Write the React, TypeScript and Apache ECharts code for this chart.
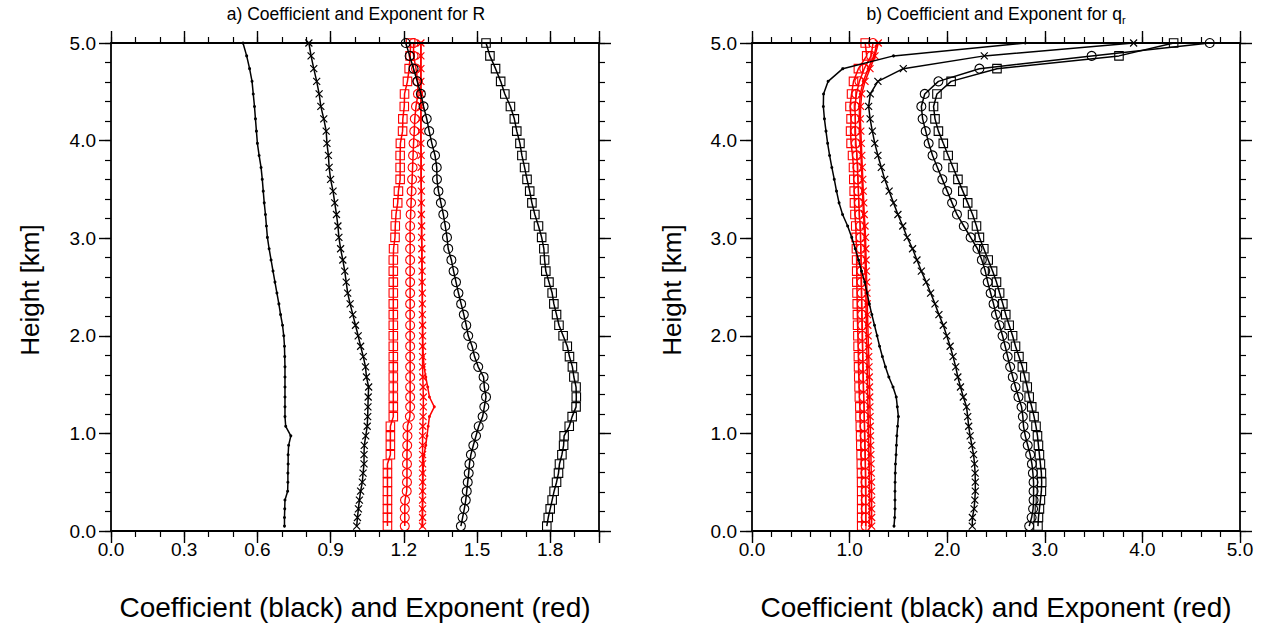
import React, { useEffect, useRef } from 'react';
import * as echarts from 'echarts';

// Model levels (km)
const heights = [
  0.05, 0.138, 0.227, 0.317, 0.408, 0.5, 0.593, 0.687, 0.782, 0.878,
  0.975, 1.073, 1.172, 1.272, 1.373, 1.475, 1.578, 1.682, 1.787, 1.893,
  2.0, 2.108, 2.217, 2.327, 2.438, 2.55, 2.663, 2.777, 2.892, 3.008,
  3.125, 3.243, 3.362, 3.482, 3.603, 3.725, 3.848, 3.972, 4.097, 4.223,
  4.35, 4.478, 4.607, 4.737, 4.868, 5.0,
];

// Panel a) coefficients (black)
const aCoefDot = [
  0.711, 0.711, 0.712, 0.713, 0.724, 0.725, 0.725, 0.726, 0.726, 0.728,
  0.737, 0.716, 0.713, 0.713, 0.713, 0.713, 0.713, 0.713, 0.712, 0.711,
  0.708, 0.703, 0.695, 0.688, 0.68, 0.672, 0.664, 0.656, 0.648, 0.641,
  0.637, 0.633, 0.628, 0.624, 0.62, 0.615, 0.607, 0.6, 0.596, 0.592,
  0.588, 0.583, 0.578, 0.568, 0.556, 0.541,
];
const aCoefCross = [
  1.007, 1.01, 1.014, 1.018, 1.023, 1.03, 1.033, 1.037, 1.037, 1.038,
  1.044, 1.05, 1.052, 1.053, 1.054, 1.056, 1.047, 1.043, 1.034, 1.023,
  1.013, 1.002, 0.991, 0.98, 0.97, 0.964, 0.958, 0.95, 0.941, 0.934,
  0.93, 0.924, 0.917, 0.91, 0.9, 0.894, 0.891, 0.885, 0.882, 0.872,
  0.86, 0.853, 0.843, 0.831, 0.82, 0.811,
];
const aCoefCircle = [
  1.434, 1.441, 1.448, 1.454, 1.458, 1.462, 1.466, 1.469, 1.475, 1.485,
  1.496, 1.507, 1.523, 1.53, 1.537, 1.53, 1.527, 1.505, 1.49, 1.48,
  1.464, 1.456, 1.446, 1.435, 1.424, 1.414, 1.404, 1.395, 1.382, 1.377,
  1.37, 1.362, 1.352, 1.342, 1.336, 1.335, 1.328, 1.315, 1.304, 1.294,
  1.281, 1.27, 1.255, 1.24, 1.224, 1.208,
];
const aCoefSquare = [
  1.786, 1.792, 1.8, 1.808, 1.816, 1.826, 1.834, 1.838, 1.848, 1.855,
  1.857, 1.878, 1.89, 1.906, 1.907, 1.906, 1.897, 1.891, 1.879, 1.87,
  1.853, 1.836, 1.826, 1.815, 1.808, 1.795, 1.782, 1.777, 1.774, 1.765,
  1.752, 1.737, 1.725, 1.716, 1.705, 1.695, 1.684, 1.676, 1.663, 1.653,
  1.637, 1.614, 1.597, 1.576, 1.553, 1.537,
];
// Panel a) exponents (red)
const aExpSquare = [
  1.133, 1.133, 1.133, 1.133, 1.133, 1.133, 1.133, 1.133, 1.145, 1.145,
  1.145, 1.145, 1.157, 1.157, 1.157, 1.157, 1.157, 1.157, 1.157, 1.157,
  1.157, 1.157, 1.157, 1.157, 1.157, 1.157, 1.157, 1.157, 1.158, 1.164,
  1.165, 1.168, 1.175, 1.178, 1.185, 1.185, 1.185, 1.186, 1.195, 1.196,
  1.202, 1.203, 1.215, 1.222, 1.226, 1.228,
];
const aExpCircle = [
  1.204, 1.204, 1.204, 1.205, 1.212, 1.213, 1.213, 1.213, 1.213, 1.214,
  1.215, 1.215, 1.225, 1.226, 1.226, 1.226, 1.226, 1.226, 1.226, 1.226,
  1.226, 1.226, 1.226, 1.226, 1.226, 1.226, 1.226, 1.226, 1.226, 1.226,
  1.226, 1.228, 1.23, 1.232, 1.234, 1.236, 1.238, 1.24, 1.243, 1.245,
  1.25, 1.258, 1.257, 1.25, 1.24, 1.24,
];
const aExpCross = [
  1.277, 1.277, 1.277, 1.277, 1.277, 1.277, 1.277, 1.277, 1.277, 1.277,
  1.277, 1.278, 1.279, 1.28, 1.28, 1.279, 1.278, 1.277, 1.277, 1.277,
  1.277, 1.277, 1.276, 1.276, 1.276, 1.275, 1.275, 1.274, 1.274, 1.273,
  1.273, 1.272, 1.272, 1.272, 1.271, 1.271, 1.271, 1.27, 1.27, 1.27,
  1.27, 1.27, 1.27, 1.27, 1.27, 1.27,
];
const aExpDot = [
  1.275, 1.276, 1.276, 1.277, 1.277, 1.278, 1.279, 1.28, 1.283, 1.29,
  1.295, 1.3, 1.305, 1.325, 1.305, 1.298, 1.29, 1.283, 1.28, 1.278,
  1.277, 1.277, 1.276, 1.276, 1.276, 1.275, 1.275, 1.274, 1.274, 1.273,
  1.273, 1.272, 1.272, 1.272, 1.271, 1.271, 1.271, 1.27, 1.27, 1.27,
  1.27, 1.27, 1.27, 1.27, 1.27, 1.27,
];

// Panel b) coefficients (black)
const bCoefDot = [
  1.455, 1.462, 1.465, 1.465, 1.465, 1.466, 1.468, 1.47, 1.476, 1.48,
  1.484, 1.492, 1.5, 1.489, 1.478, 1.445, 1.402, 1.367, 1.336, 1.307,
  1.282, 1.255, 1.228, 1.202, 1.18, 1.155, 1.122, 1.092, 1.058, 1.022,
  0.98, 0.928, 0.892, 0.866, 0.843, 0.818, 0.795, 0.775, 0.758, 0.742,
  0.731, 0.733, 0.78, 0.93, 1.45, 2.8,
];
const bCoefCross = [
  2.257, 2.258, 2.275, 2.283, 2.288, 2.288, 2.286, 2.28, 2.27, 2.253,
  2.235, 2.22, 2.21, 2.198, 2.165, 2.136, 2.109, 2.087, 2.06, 2.03,
  1.995, 1.96, 1.915, 1.875, 1.83, 1.785, 1.735, 1.69, 1.645, 1.59,
  1.545, 1.495, 1.45, 1.405, 1.36, 1.325, 1.29, 1.258, 1.233, 1.21,
  1.195, 1.212, 1.29, 1.55, 2.38, 3.91,
];
const bCoefCircle = [
  2.84, 2.865, 2.88, 2.885, 2.885, 2.885, 2.878, 2.868, 2.85, 2.825,
  2.8, 2.782, 2.775, 2.762, 2.73, 2.7, 2.672, 2.645, 2.62, 2.594,
  2.567, 2.535, 2.5, 2.475, 2.445, 2.415, 2.39, 2.355, 2.31, 2.24,
  2.17, 2.1, 2.05, 2.0, 1.95, 1.9, 1.85, 1.81, 1.78, 1.748,
  1.735, 1.77, 1.91, 2.33, 3.48, 4.69,
];
const bCoefSquare = [
  2.93, 2.935, 2.945, 2.955, 2.965, 2.968, 2.965, 2.955, 2.945, 2.935,
  2.925, 2.91, 2.89, 2.866, 2.84, 2.82, 2.795, 2.77, 2.735, 2.7,
  2.67, 2.635, 2.6, 2.57, 2.537, 2.505, 2.465, 2.42, 2.375, 2.33,
  2.3, 2.26, 2.21, 2.16, 2.11, 2.06, 2.01, 1.96, 1.91, 1.875,
  1.86, 1.895, 2.04, 2.51, 3.76, 4.32,
];
// Panel b) exponents (red)
const bExpSquare = [
  1.124, 1.124, 1.124, 1.124, 1.124, 1.123, 1.122, 1.12, 1.118, 1.115,
  1.113, 1.11, 1.107, 1.105, 1.1, 1.097, 1.094, 1.092, 1.09, 1.087,
  1.085, 1.082, 1.08, 1.078, 1.076, 1.074, 1.073, 1.072, 1.07, 1.067,
  1.063, 1.055, 1.05, 1.047, 1.043, 1.04, 1.03, 1.015, 1.01, 1.015,
  1.004, 1.02, 1.04, 1.09, 1.175, 1.16,
];
const bExpCircle = [
  1.165, 1.165, 1.165, 1.165, 1.164, 1.163, 1.162, 1.16, 1.158, 1.156,
  1.154, 1.152, 1.15, 1.148, 1.145, 1.142, 1.14, 1.138, 1.136, 1.134,
  1.132, 1.13, 1.128, 1.126, 1.124, 1.122, 1.12, 1.118, 1.116, 1.113,
  1.11, 1.1, 1.095, 1.09, 1.085, 1.08, 1.075, 1.065, 1.06, 1.058,
  1.055, 1.07, 1.1, 1.15, 1.22, 1.24,
];
const bExpCross = [
  1.226, 1.226, 1.226, 1.226, 1.225, 1.224, 1.222, 1.22, 1.218, 1.216,
  1.214, 1.212, 1.21, 1.208, 1.206, 1.204, 1.202, 1.199, 1.196, 1.193,
  1.19, 1.187, 1.184, 1.181, 1.178, 1.175, 1.172, 1.169, 1.166, 1.163,
  1.158, 1.15, 1.145, 1.14, 1.135, 1.13, 1.125, 1.12, 1.115, 1.11,
  1.113, 1.124, 1.158, 1.209, 1.26, 1.294,
];
const bExpDot = [
  1.205, 1.205, 1.205, 1.205, 1.204, 1.203, 1.202, 1.2, 1.198, 1.196,
  1.194, 1.192, 1.19, 1.188, 1.186, 1.184, 1.182, 1.18, 1.178, 1.176,
  1.174, 1.172, 1.17, 1.168, 1.166, 1.164, 1.162, 1.16, 1.158, 1.155,
  1.15, 1.142, 1.137, 1.132, 1.127, 1.122, 1.117, 1.11, 1.105, 1.1,
  1.1, 1.11, 1.14, 1.19, 1.25, 1.28,
];

const titleA = 'a) Coefficient and Exponent for R';
const titleB = 'b) Coefficient and Exponent for q';
const titleBSub = 'r';
const yName = 'Height [km]';
const xName = 'Coefficient (black) and Exponent (red)';

const FONT = '"Liberation Sans", Arial, Helvetica, sans-serif';
const BLACK = '#000000';
const RED = '#ff0000';
const CROSS = 'path://M0,0L10,10M10,0L0,10';

type Marker = 'dot' | 'cross' | 'circle' | 'square';

function makeSeries(name: string, xs: number[], color: string, marker: Marker, g: number, z: number) {
  const s: any = {
    type: 'line',
    name,
    xAxisIndex: g * 4,
    yAxisIndex: g * 4,
    data: heights.map((h, i) => [xs[i], h]),
    lineStyle: { color, width: 1.5 },
    showSymbol: true,
    showAllSymbol: true,
    silent: true,
    z,
    clip: false,
  };
  if (marker === 'dot') {
    s.symbol = 'circle';
    s.symbolSize = 3;
    s.itemStyle = { color, borderWidth: 0 };
  } else if (marker === 'circle') {
    s.symbol = 'circle';
    s.symbolSize = 9;
    s.itemStyle = { color: 'rgba(0,0,0,0)', borderColor: color, borderWidth: 1.1 };
  } else if (marker === 'square') {
    s.symbol = 'rect';
    s.symbolSize = 8.5;
    s.itemStyle = { color: 'rgba(0,0,0,0)', borderColor: color, borderWidth: 1.1 };
  } else {
    s.symbol = CROSS;
    s.symbolSize = 7;
    s.itemStyle = { color: 'rgba(0,0,0,0)', borderColor: color, borderWidth: 1.2 };
  }
  return s;
}

const GRIDS = [
  { left: 111, top: 43, width: 488, height: 488 },
  { left: 752, top: 43, width: 488, height: 488 },
];

const MAJOR_LEN = 12;
const MINOR_LEN = 6;
const lineMajor = { show: true, onZero: false, lineStyle: { color: BLACK, width: 1.8 } };
const tickMajor = { show: true, length: MAJOR_LEN, lineStyle: { color: BLACK, width: 1.4 } };
const lineMinor = { show: true, onZero: false, lineStyle: { color: BLACK, width: 1, opacity: 0 } };
const tickMinor = { show: true, length: MINOR_LEN, lineStyle: { color: BLACK, width: 1.2 } };

function xAxes(g: number, max: number, interval: number, minor: number) {
  const fmt = (v: number) =>
    Math.abs(v - max) < 1e-9 && Math.abs(max / interval - Math.round(max / interval)) > 1e-6 ? '' : v.toFixed(1);
  const common = { type: 'value', gridIndex: g, min: 0, max, splitLine: { show: false }, offset: 0 };
  return [
    {
      ...common,
      position: 'bottom',
      interval,
      axisLine: lineMajor,
      axisTick: tickMajor,
      axisLabel: { show: true, margin: 9, color: BLACK, fontSize: 19, fontFamily: FONT, formatter: fmt },
      z: 5,
    },
    { ...common, position: 'top', interval, axisLine: lineMajor, axisTick: tickMajor, axisLabel: { show: false }, z: 5 },
    { ...common, position: 'bottom', interval: minor, axisLine: lineMinor, axisTick: tickMinor, axisLabel: { show: false }, z: 4 },
    { ...common, position: 'top', interval: minor, axisLine: lineMinor, axisTick: tickMinor, axisLabel: { show: false }, z: 4 },
  ];
}

function yAxes(g: number) {
  const common = { type: 'value', gridIndex: g, min: 0, max: 5, splitLine: { show: false }, offset: 0 };
  return [
    {
      ...common,
      position: 'left',
      interval: 1,
      axisLine: lineMajor,
      axisTick: tickMajor,
      axisLabel: { show: true, margin: 15, color: BLACK, fontSize: 19, fontFamily: FONT, formatter: (v: number) => v.toFixed(1) },
      z: 5,
    },
    { ...common, position: 'right', interval: 1, axisLine: lineMajor, axisTick: tickMajor, axisLabel: { show: false }, z: 5 },
    { ...common, position: 'left', interval: 0.2, axisLine: lineMinor, axisTick: tickMinor, axisLabel: { show: false }, z: 4 },
    { ...common, position: 'right', interval: 0.2, axisLine: lineMinor, axisTick: tickMinor, axisLabel: { show: false }, z: 4 },
  ];
}

function txt(text: string, x: number, y: number, size: number, rotation = 0): any {
  return {
    type: 'text',
    x,
    y,
    rotation,
    silent: true,
    style: {
      text,
      fill: BLACK,
      fontSize: size,
      fontFamily: FONT,
      align: 'center',
      verticalAlign: 'middle',
      textAlign: 'center',
      textVerticalAlign: 'middle',
    },
  };
}

export default function App() {
  const ref = useRef<HTMLDivElement>(null);
  useEffect(() => {
    if (!ref.current) return;
    const chart = echarts.init(ref.current, undefined, { renderer: 'svg' });
    const series = [
      makeSeries('a exp square', aExpSquare, RED, 'square', 0, 2),
      makeSeries('a exp circle', aExpCircle, RED, 'circle', 0, 2),
      makeSeries('a exp dot', aExpDot, RED, 'dot', 0, 2),
      makeSeries('a exp cross', aExpCross, RED, 'cross', 0, 2),
      makeSeries('a coef dot', aCoefDot, BLACK, 'dot', 0, 3),
      makeSeries('a coef cross', aCoefCross, BLACK, 'cross', 0, 3),
      makeSeries('a coef circle', aCoefCircle, BLACK, 'circle', 0, 3),
      makeSeries('a coef square', aCoefSquare, BLACK, 'square', 0, 3),
      makeSeries('b exp square', bExpSquare, RED, 'square', 1, 2),
      makeSeries('b exp circle', bExpCircle, RED, 'circle', 1, 2),
      makeSeries('b exp dot', bExpDot, RED, 'dot', 1, 2),
      makeSeries('b exp cross', bExpCross, RED, 'cross', 1, 2),
      makeSeries('b coef dot', bCoefDot, BLACK, 'dot', 1, 3),
      makeSeries('b coef cross', bCoefCross, BLACK, 'cross', 1, 3),
      makeSeries('b coef circle', bCoefCircle, BLACK, 'circle', 1, 3),
      makeSeries('b coef square', bCoefSquare, BLACK, 'square', 1, 3),
    ];
    chart.setOption({
      animation: false,
      backgroundColor: '#ffffff',
      grid: GRIDS,
      xAxis: [...xAxes(0, 2.0, 0.3, 0.1), ...xAxes(1, 5, 1, 0.2)],
      yAxis: [...yAxes(0), ...yAxes(1)],
      series,
      graphic: [
        txt(titleA, 356, 14, 17.5),
        {
          type: 'text',
          x: 996,
          y: 14,
          silent: true,
          style: {
            text: '{m|' + titleB + '}{s|' + titleBSub + '}',
            fill: BLACK,
            fontFamily: FONT,
            align: 'center',
            verticalAlign: 'middle',
            textAlign: 'center',
            textVerticalAlign: 'middle',
            rich: {
              m: { fontSize: 17.5, fontFamily: FONT, fill: BLACK, lineHeight: 22, verticalAlign: 'middle' },
              s: { fontSize: 11, fontFamily: FONT, fill: BLACK, lineHeight: 22, verticalAlign: 'bottom' },
            },
          },
        },
        txt(yName, 30, 290, 26, Math.PI / 2),
        txt(yName, 672, 290, 26, Math.PI / 2),
        txt(xName, 355, 607, 28),
        txt(xName, 996, 607, 28),
      ],
    });
    return () => chart.dispose();
  }, []);
  return <div ref={ref} style={{ position: 'fixed', left: 0, top: 0, width: 1267, height: 623, background: '#fff' }} />;
}
